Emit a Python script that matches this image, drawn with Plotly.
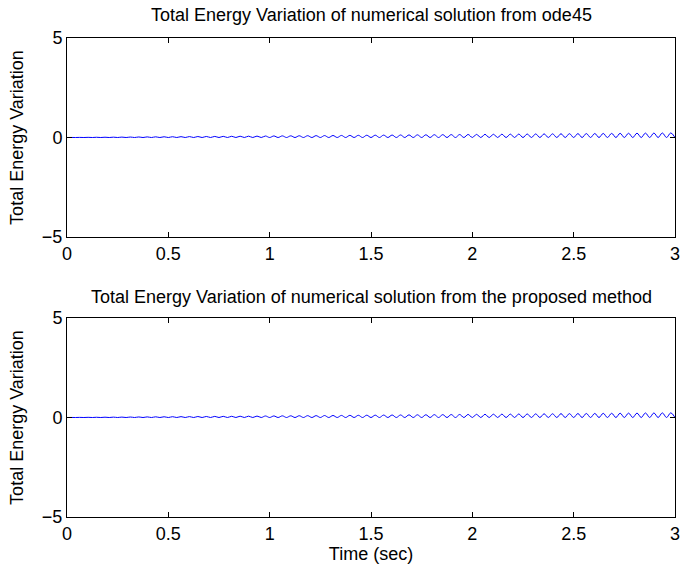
import numpy as np
import plotly.graph_objects as go

# Peak values of each oscillation cycle
peak_ode45 = [0.002,0.005,0.008,0.011,0.014,0.017,0.020,0.023,0.026,0.030,
              0.033,0.036,0.039,0.042,0.046,0.049,0.052,0.055,0.058,0.062,
              0.065,0.068,0.071,0.075,0.078,0.081,0.084,0.088,0.091,0.094,
              0.097,0.101,0.104,0.107,0.110,0.114,0.117,0.120,0.123,0.127,
              0.130,0.133,0.136,0.140,0.143,0.146,0.149,0.153,0.156,0.159,
              0.162,0.166,0.169,0.172,0.175,0.179,0.182,0.185,0.188,0.192,
              0.195,0.198,0.201,0.205,0.208,0.211,0.214,0.218,0.221,0.224,
              0.228,0.231]
peak_proposed = [0.002,0.006,0.009,0.011,0.015,0.018,0.020,0.024,0.027,0.030,
                 0.034,0.036,0.040,0.043,0.045,0.050,0.052,0.056,0.059,0.061,
                 0.066,0.068,0.072,0.076,0.078,0.083,0.085,0.089,0.093,0.094,
                 0.099,0.102,0.105,0.109,0.111,0.116,0.118,0.122,0.126,0.127,
                 0.133,0.135,0.138,0.143,0.144,0.149,0.152,0.155,0.160,0.161,
                 0.166,0.169,0.171,0.177,0.178,0.183,0.186,0.188,0.194,0.195,
                 0.199,0.203,0.205,0.211,0.212,0.216,0.220,0.222,0.228,0.229,
                 0.233,0.236]
trough_value = 0.0

titles = ["Total Energy Variation of numerical solution from ode45",
          "Total Energy Variation of numerical solution from the proposed method"]
x_ticks = [0, 0.5, 1, 1.5, 2, 2.5, 3]
y_ticks = [-5, 0, 5]
t_end = 3.0


def build(peaks):
    n = len(peaks)
    t = np.linspace(0, t_end, 2 * n + 1)
    y = [trough_value]
    for p in peaks:
        y += [p, trough_value]
    return t, np.array(y)


fig = go.Figure()
font = "Liberation Sans, Arial, Helvetica, sans-serif"
FS = 18
W, H = 683, 565
ml, mr, mt, mb = 67, 3, 38, 48
ph = H - mt - mb
top_dom = [(H - mb - 237) / ph, 1.0]
bot_dom = [0.0, (H - mb - 318) / ph]

for i, peaks in enumerate([peak_ode45, peak_proposed]):
    t, y = build(peaks)
    fig.add_trace(go.Scatter(x=t, y=y, mode="lines", line=dict(color="#0000ff", width=1, shape="spline"),
                             xaxis="x" if i == 0 else "x2", yaxis="y" if i == 0 else "y2",
                             showlegend=False, hoverinfo="skip"))

axis_common = dict(showline=True, linecolor="black", linewidth=1, mirror="allticks", ticks="inside",
                   ticklen=5, tickcolor="black", showgrid=False, zeroline=False,
                   ticklabeloverflow="allow",
                   tickfont=dict(family=font, size=FS, color="black"))

fig.update_layout(
    width=W, height=H, margin=dict(l=ml, r=mr, t=mt, b=mb),
    paper_bgcolor="white", plot_bgcolor="white",
    font=dict(family=font, color="black"),
    xaxis=dict(domain=[0, 1], anchor="y", range=[0, t_end], tickvals=x_ticks, **axis_common),
    yaxis=dict(domain=top_dom, anchor="x", range=[-5, 5], tickvals=y_ticks,
               title=dict(text="Total Energy Variation", font=dict(family=font, size=FS), standoff=13),
               **axis_common),
    xaxis2=dict(domain=[0, 1], anchor="y2", range=[0, t_end], tickvals=x_ticks,
                title=dict(text="Time (sec)", font=dict(family=font, size=FS), standoff=0),
                **axis_common),
    yaxis2=dict(domain=bot_dom, anchor="x2", range=[-5, 5], tickvals=y_ticks,
                title=dict(text="Total Energy Variation", font=dict(family=font, size=FS), standoff=13),
                **axis_common),
)

fig.add_annotation(text=titles[0], x=0.5, xref="paper", y=top_dom[1], yref="paper",
                   yanchor="bottom", yshift=11, showarrow=False, font=dict(family=font, size=FS))
fig.add_annotation(text=titles[1], x=0.5, xref="paper", y=bot_dom[1], yref="paper",
                   yanchor="bottom", yshift=9, showarrow=False, font=dict(family=font, size=FS))

fig.write_html("out.html")
